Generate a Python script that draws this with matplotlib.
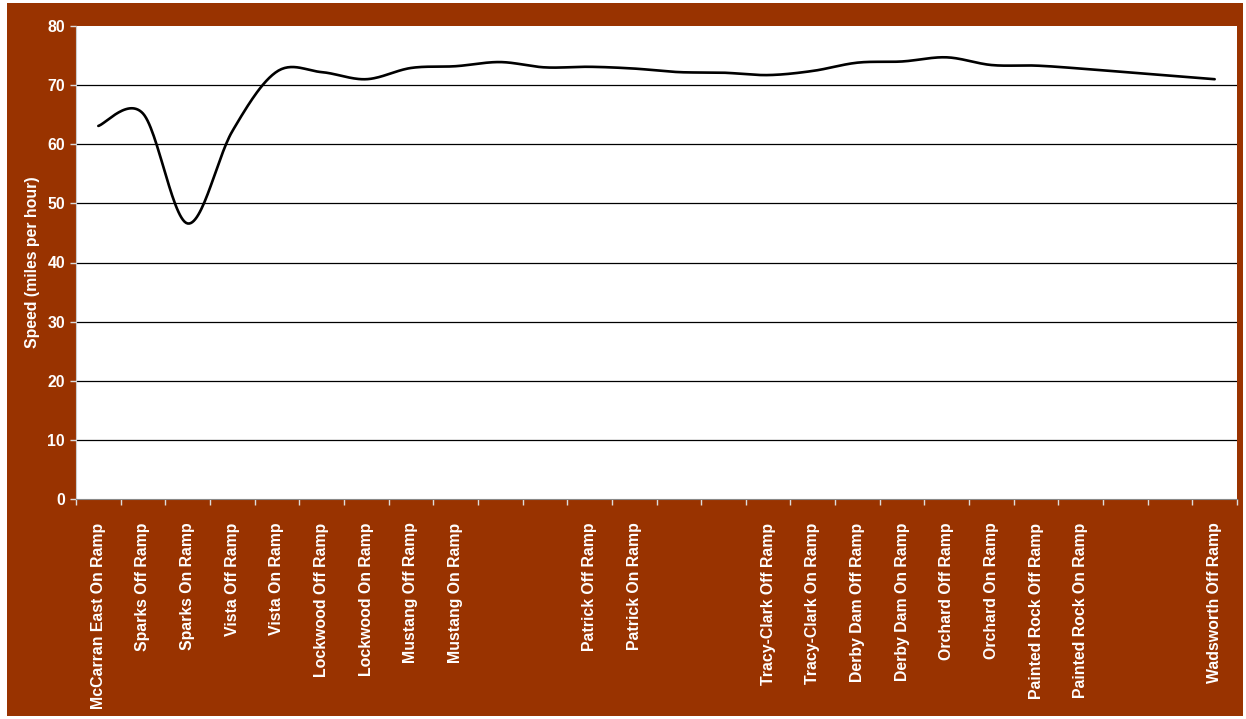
import numpy as np
import matplotlib.pyplot as plt
from matplotlib.patches import Rectangle

plt.rcParams['font.family'] = ['Liberation Sans', 'DejaVu Sans']
plt.rcParams['font.weight'] = 'bold'

ramps = ['McCarran East On Ramp', 'Sparks Off Ramp', 'Sparks On Ramp', 'Vista Off Ramp',
         'Vista On Ramp', 'Lockwood Off Ramp', 'Lockwood On Ramp', 'Mustang Off Ramp',
         'Mustang On Ramp', '', '', 'Patrick Off Ramp', 'Patrick On Ramp', '', '',
         'Tracy-Clark Off Ramp', 'Tracy-Clark On Ramp', 'Derby Dam Off Ramp',
         'Derby Dam On Ramp', 'Orchard Off Ramp', 'Orchard On Ramp',
         'Painted Rock Off Ramp', 'Painted Rock On Ramp', '', '', 'Wadsworth Off Ramp']
speed = [63.1, 65.2, 46.6, 62.2, 72.3, 72.2, 71.0, 72.9, 73.2, 73.9, 73.0, 73.1, 72.8,
         72.2, 72.1, 71.7, 72.4, 73.8, 74.0, 74.7, 73.4, 73.3, 72.8, 72.2, 71.6, 71.0]

brown = '#993300'


def smooth(x, y, n=30):
    # Catmull-Rom style bezier through every point
    x = np.asarray(x, float)
    y = np.asarray(y, float)
    px = np.concatenate([[x[0]], x, [x[-1]]])
    py = np.concatenate([[y[0]], y, [y[-1]]])
    xs, ys = [], []
    t = np.linspace(0, 1, n)
    for i in range(1, len(px) - 2):
        p0 = np.array([px[i], py[i]])
        p3 = np.array([px[i + 1], py[i + 1]])
        p1 = p0 + (np.array([px[i + 1], py[i + 1]]) - np.array([px[i - 1], py[i - 1]])) / 6
        p2 = p3 - (np.array([px[i + 2], py[i + 2]]) - np.array([px[i], py[i]])) / 6
        b = ((1 - t) ** 3)[:, None] * p0 + (3 * (1 - t) ** 2 * t)[:, None] * p1 \
            + (3 * (1 - t) * t ** 2)[:, None] * p2 + (t ** 3)[:, None] * p3
        xs.extend(b[:, 0])
        ys.extend(b[:, 1])
    return np.array(xs), np.array(ys)


fig = plt.figure(figsize=(12.46, 7.19), dpi=100, facecolor='white')
fig.patches.append(Rectangle((7 / 1246, 3 / 719), 1236 / 1246, 713 / 719,
                             transform=fig.transFigure, facecolor=brown,
                             edgecolor='none', zorder=-1))
ax = fig.add_axes([76 / 1246, 1 - 499 / 719, 1161 / 1246, 473 / 719])
ax.set_facecolor('white')

xpos = np.arange(len(ramps))
sx, sy = smooth(xpos, speed)
ax.plot(sx, sy, color='black', lw=1.9, solid_capstyle='round', zorder=3)

ax.set_xlim(-0.5, len(ramps) - 0.5)
ax.set_ylim(0, 80)
ax.set_yticks(range(0, 81, 10))
for v in range(10, 71, 10):
    ax.axhline(v, color='black', lw=0.9, zorder=1)

ax.set_xticks(xpos)
ax.set_xticklabels(ramps, rotation=90, va='top', ha='center', color='white',
                   fontsize=11.4, fontweight='bold')
ax.set_xticks(np.arange(-0.5, len(ramps), 1), minor=True)
ax.tick_params(axis='x', which='major', length=0, pad=17)
ax.tick_params(axis='x', which='minor', length=4, color='#dddddd', width=1)
ax.tick_params(axis='y', length=4, color='#dddddd', width=1, labelcolor='white',
               labelsize=11.4, pad=4)
for lab in ax.get_yticklabels():
    lab.set_fontweight('bold')

for s in ['top', 'right']:
    ax.spines[s].set_visible(False)
ax.spines['left'].set_color('#cccccc')
ax.spines['bottom'].set_color('#888888')

ax.set_ylabel('Speed (miles per hour)', color='white', fontsize=11.4,
              fontweight='bold', labelpad=5)

fig.savefig('out.png', dpi=100, facecolor='white')
